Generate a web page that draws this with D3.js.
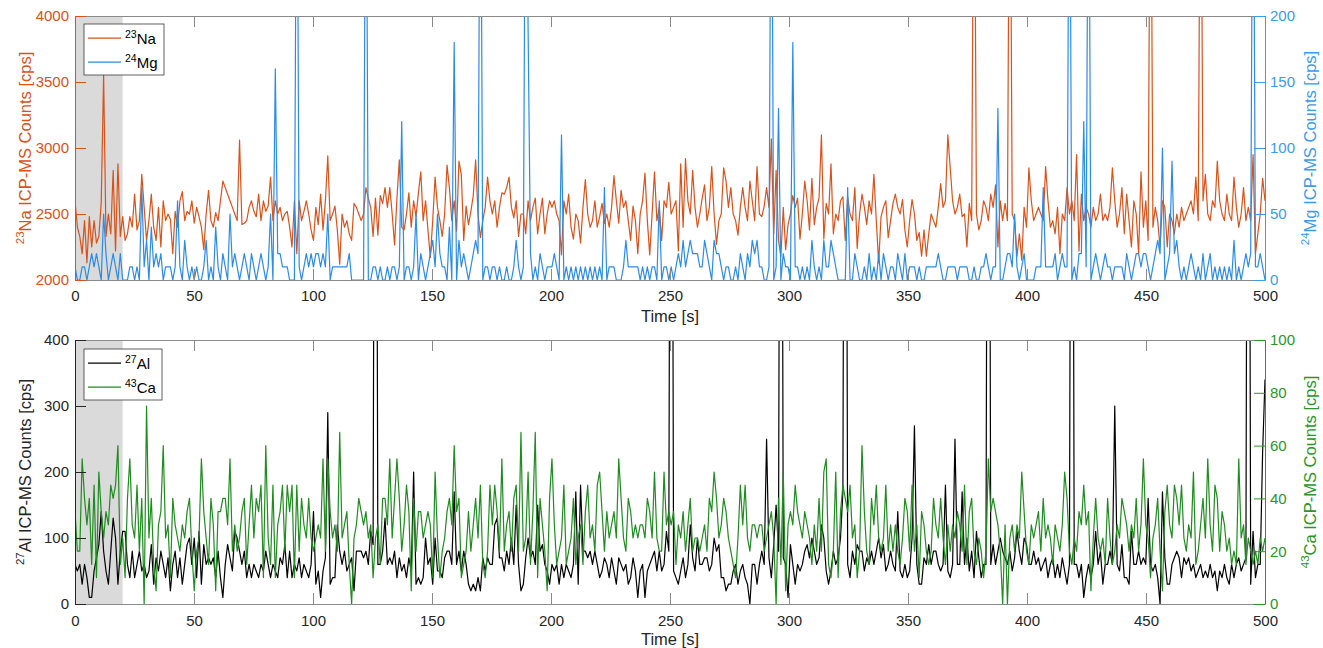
<!DOCTYPE html>
<html><head><meta charset="utf-8">
<script src="https://cdn.jsdelivr.net/npm/d3@7/dist/d3.min.js"></script>
<style>html,body{margin:0;padding:0;background:#fff;}svg{display:block;font-family:"Liberation Sans",Arial,Helvetica,sans-serif;}</style>
</head><body>
<script>
// ---------------- DATA (1 sample ≈ 1 s, 500 samples spanning 0–500 s) ----------------
const timeRange = [0, 500];
const blankEnd = 20; // shaded blank interval [s]
const xTicks = [0,50,100,150,200,250,300,350,400,450,500];
const naTicks = [2000,2500,3000,3500,4000];
const mgTicks = [0,50,100,150,200];
const alTicks = [0,100,200,300,400];
const caTicks = [0,20,40,60,80,100];

const na23 = [
2600,2400,2330,2200,2450,2130,2480,2250,2450,2280,
2330,2590,3550,2330,2500,2350,2830,2220,2880,2330,
2480,2300,2350,2480,2400,2650,2380,2450,2800,2550,
2300,2450,2650,2400,2300,2550,2250,2600,2450,2500,
2460,2200,2520,2400,2600,2670,2450,2520,2500,2600,
2430,2550,2480,2400,2230,2500,2680,2450,2400,2510,
2450,2600,2750,2700,2650,2600,2550,2500,2450,3060,
2420,2430,2450,2550,2600,2520,2480,2650,2450,2600,
2520,2560,2780,2450,2600,2500,2550,2450,2500,2520,
2400,2250,2600,2200,2600,2450,2520,2600,2500,2380,
2300,2550,2420,2650,2380,2600,2940,2450,2500,2560,
2380,2120,2500,2400,2450,2350,2300,2580,2550,2500,
2450,2500,2700,2620,2550,2330,2620,2340,2640,2580,
2700,2550,2700,2500,2265,2620,2910,2400,2380,2500,
2660,2400,2600,2480,2660,2820,2450,2600,2380,2170,
2450,2780,2550,2450,2330,2500,2870,2700,2450,2600,
2370,2900,2800,2300,2560,2420,2520,2640,2910,2500,
2320,2450,2550,2780,2600,2500,2600,2400,2550,2660,
2650,2700,2780,2550,2470,2600,2330,2500,2500,2350,
2600,2450,2550,2620,2350,2500,2620,2350,2500,2600,
2550,2600,2500,2450,2190,2600,2500,2650,2400,2310,
2500,2450,2280,2550,2760,2500,2400,2450,2600,2400,
2480,2580,2430,2500,2400,2550,2790,2600,2430,2680,
2550,2600,2450,2300,2560,2450,2200,2500,2600,2810,
2450,2190,2500,2820,2450,2550,2300,2600,2550,2740,
2500,2550,2600,2220,2880,2400,2920,2600,2500,2830,
2550,2400,2500,2620,2720,2450,2550,2860,2500,2270,
2450,2500,2850,2750,2550,2700,2500,2450,2340,2550,
2700,2550,2450,2750,2600,2450,2860,2500,2480,2560,
2700,2550,3070,2350,2830,2300,2180,2550,2230,2420,
2500,2640,2550,2620,2310,2500,2750,2600,2380,2770,
2420,2550,2620,3100,2310,2580,2500,2880,2350,2500,
2450,2600,2630,2300,2630,2500,2450,2700,2240,2500,
2650,2550,2420,2600,2500,2800,2450,2130,2480,2550,
2600,2320,2450,2580,2650,2550,2500,2610,2380,2250,
2450,2610,2500,2300,2360,2180,2380,2180,2350,2500,
2450,2400,2550,2730,2550,2600,3100,2850,2600,2500,
2550,2650,2480,2500,2250,2580,2450,6000,2500,2380,
2450,2600,2550,2450,2650,2550,2720,2250,2600,2450,
2580,2450,6000,2500,2450,2180,2350,2150,2550,2400,
2850,2600,2450,2500,2550,2500,2450,2860,2600,2400,
2450,2350,2550,2200,2500,2450,2700,2500,2600,2450,
2950,2220,2650,2450,2550,2500,2400,2550,2450,2500,
2650,2450,2500,2450,2550,2850,2600,2400,2500,2700,
2350,2650,2450,2250,2600,2500,2200,2820,2400,2600,
2300,6000,2400,2550,2450,2250,2600,2550,2250,2500,
2450,2350,2500,2400,2550,2450,2500,2550,2600,2500,
2780,2450,6000,2600,2800,2500,2450,2600,2550,2900,
2600,2500,2450,2650,2500,2450,2780,2550,2400,2500,
2700,2450,2550,2450,2950,2200,2350,2500,2770,2600
];

const mg24 = [
10,0,0,10,10,0,10,20,10,20,
10,0,50,20,0,10,20,10,0,20,
0,0,0,10,10,0,10,0,70,10,
30,0,40,10,20,10,20,0,10,10,
10,0,10,60,10,0,30,10,0,10,
0,10,0,0,10,30,0,10,0,40,
10,0,20,10,0,50,10,20,10,0,
10,20,10,0,20,10,0,10,20,10,
0,10,50,0,160,20,20,10,10,10,
0,0,0,400,10,0,10,20,10,20,
10,20,20,10,20,10,50,0,10,10,
10,10,10,10,10,20,0,0,0,0,
0,0,400,0,0,10,10,0,10,0,
0,10,0,10,10,0,10,120,0,10,
10,0,10,50,0,20,10,0,10,20,
30,10,50,20,10,10,0,40,0,180,
0,30,10,20,10,0,10,20,30,20,
400,0,10,10,0,10,10,0,10,0,
0,10,0,0,10,30,10,0,10,400,
190,20,0,10,0,20,10,0,10,10,
10,20,10,0,110,0,10,0,10,0,
10,0,10,0,10,0,10,0,10,0,
10,0,70,0,10,10,10,0,0,0,
10,30,10,10,10,10,10,0,10,0,
10,0,10,10,0,60,0,10,10,0,
10,0,10,20,10,30,10,20,30,20,
20,20,10,10,30,20,10,0,30,20,
20,10,0,10,10,0,0,10,0,20,
10,0,20,10,30,20,30,10,10,0,
0,10,400,0,10,130,0,20,10,10,
0,180,10,10,0,10,0,10,0,30,
10,0,10,0,30,10,10,30,20,10,
0,0,0,0,70,0,0,20,10,0,
0,10,0,20,0,10,0,20,0,20,
10,0,10,10,0,20,10,0,20,0,
10,10,10,0,10,0,0,10,10,10,
10,10,20,10,0,0,10,10,10,10,
0,10,10,10,10,0,0,10,0,0,
10,10,20,10,0,10,10,130,0,0,
10,20,20,10,50,10,0,10,20,0,
0,0,0,10,10,10,70,10,10,10,
10,20,0,10,20,10,10,400,0,10,
0,20,20,120,10,400,0,10,20,10,
0,10,20,10,10,0,10,10,10,10,
0,20,10,0,10,20,20,10,20,20,
10,0,10,20,30,20,100,0,10,20,
90,20,30,10,0,10,0,10,20,10,
0,10,0,20,0,10,20,0,10,0,
10,0,10,0,10,0,30,0,10,0,
10,20,10,20,400,10,10,20,10,0
];

const al27 = [
60,50,60,30,60,40,10,10,50,70,
90,140,80,50,30,80,130,100,30,80,
110,110,60,40,80,40,60,80,50,60,
40,50,90,30,70,50,80,60,40,70,
20,60,80,40,70,30,60,90,100,60,
100,40,110,30,90,60,70,60,70,40,
80,40,10,60,90,70,50,110,100,80,
60,80,40,60,40,60,50,40,60,50,
80,60,40,60,50,40,70,60,90,40,
80,40,60,50,70,40,60,50,40,60,
140,30,50,10,50,70,290,30,40,40,
120,80,60,80,50,60,70,20,80,80,
80,70,80,60,110,90,1500,60,60,80,
130,60,70,60,80,40,70,50,60,40,
70,50,200,30,40,30,40,100,60,70,
30,100,50,50,40,70,80,80,60,170,
60,80,50,80,60,30,20,30,20,40,
20,70,50,70,60,60,120,130,70,70,
50,80,60,100,60,150,60,20,30,70,
100,70,80,60,150,80,90,60,50,30,
60,50,60,30,60,40,60,50,40,60,
170,30,180,80,80,70,80,60,80,60,
40,50,70,60,40,70,50,30,70,60,
50,60,30,40,70,50,10,50,60,10,
50,60,70,80,50,80,50,60,110,80,
1500,50,40,30,50,70,40,60,120,70,
50,100,60,60,70,70,50,60,100,80,
90,40,40,20,30,30,50,60,30,50,
60,40,30,0,60,60,30,60,80,60,
250,70,40,90,150,80,1500,70,60,10,
90,60,30,60,50,60,80,90,70,100,
80,60,70,120,100,50,30,50,80,60,
70,100,170,1500,60,40,80,60,90,80,
80,50,70,60,80,60,80,100,70,90,
50,60,80,60,50,140,50,40,60,40,
50,100,270,60,30,30,70,60,90,60,
80,80,60,50,60,180,50,40,60,250,
60,60,170,60,100,50,80,40,110,70,
40,60,60,1500,60,90,60,80,100,80,
70,60,80,50,70,110,80,60,100,90,
60,60,80,60,70,50,60,70,40,60,
70,40,60,40,70,50,30,60,1500,60,
60,40,60,10,40,60,40,60,110,60,
80,30,60,60,80,60,300,60,50,90,
40,40,30,110,60,60,80,60,70,60,
160,60,50,60,40,0,170,70,30,30,
60,70,80,70,40,70,60,70,50,60,
40,50,60,40,50,40,60,40,50,20,
50,40,60,40,30,60,40,60,70,50,
60,70,1500,30,110,40,60,60,230,340
];

const ca43 = [
35,20,20,55,40,30,40,15,45,10,
50,35,25,35,30,45,40,45,60,15,
25,10,40,55,30,25,45,20,40,0,
75,25,40,15,5,30,35,60,25,30,
10,40,30,25,20,30,25,35,40,20,
5,20,25,55,35,25,15,40,30,5,
35,35,40,40,30,55,20,30,20,25,
35,40,15,30,45,25,40,35,45,10,
60,25,15,45,10,30,35,45,20,45,
35,45,10,45,20,40,30,25,40,25,
20,25,30,25,55,20,55,35,25,30,
20,65,25,30,35,15,0,25,30,40,
35,30,35,25,30,10,25,30,15,40,
40,30,55,25,40,55,40,20,30,45,
35,5,40,20,35,35,25,30,35,30,
10,50,25,10,20,25,35,40,30,60,
35,40,10,15,20,35,20,30,40,25,
45,15,10,20,45,30,45,35,20,55,
20,30,35,20,40,45,20,65,20,25,
50,15,35,65,10,40,30,20,5,40,
55,30,15,20,25,45,15,20,25,40,
15,25,30,15,35,45,25,30,20,45,
50,35,20,35,25,30,35,25,55,40,
25,20,40,35,25,30,25,30,30,25,
40,35,25,50,25,20,20,50,30,35,
30,35,15,30,25,35,20,30,40,20,
25,25,20,25,30,20,40,35,50,40,
25,30,40,35,25,20,15,10,25,45,
30,45,25,20,30,30,25,30,30,20,
25,30,35,25,0,40,15,50,5,30,
35,30,45,35,30,25,35,30,25,15,
30,20,40,20,50,55,15,10,20,50,
10,35,45,40,35,45,25,30,10,20,
60,35,20,15,40,30,45,25,20,25,
45,20,30,20,30,20,15,25,40,35,
20,45,20,30,10,35,30,20,15,20,
40,30,25,40,25,15,30,20,30,25,
35,30,20,45,15,35,40,20,15,25,
20,10,20,55,35,40,35,30,20,0,
30,0,25,30,20,30,25,50,35,20,
15,30,25,30,35,20,40,25,30,25,
15,30,25,20,30,50,40,20,15,25,
20,35,30,45,30,35,5,25,40,25,
20,25,15,40,25,15,20,30,25,40,
35,30,20,30,25,40,20,30,55,30,
25,10,25,30,40,20,5,35,45,30,
25,45,40,30,45,25,20,30,25,50,
15,20,30,40,25,55,30,20,45,40,
20,35,30,20,25,15,20,15,55,25,
30,15,25,20,15,20,15,25,20,25
];

// ---------------- STYLE ----------------
const C = {
  na: "#D95319", mg: "#2B8CE6", mgAxis: "#3C9BEB",
  al: "#000000", alAxis: "#262626", ca: "#1E8C1E", caAxis: "#2A962A",
  frame: "#8a8a8a", shade: "#dadada", text: "#262626"
};
const W = 1323, H = 648;
const L = 75, R = 1265;
const panels = [
  { top: 16, bottom: 280, xlab: 322 },
  { top: 340, bottom: 604, xlab: 645 }
];
const nSamples = na23.length;
const time = d3.range(nSamples).map(i => timeRange[0] + i * (timeRange[1] - timeRange[0]) / (nSamples - 1));

const svg = d3.select("body").append("svg").attr("width", W).attr("height", H);
const x = d3.scaleLinear().domain(timeRange).range([L, R]);

function superText(sel, sup, main, supSize, mainSize) {
  sel.append("tspan").attr("font-size", supSize).attr("dy", -0.42 * mainSize).text(sup);
  sel.append("tspan").attr("font-size", mainSize).attr("dy", 0.42 * mainSize).text(main);
}

function drawPanel(p, idx, cfg) {
  const yL = d3.scaleLinear().domain(cfg.leftDomain).range([p.bottom, p.top]);
  const yR = d3.scaleLinear().domain(cfg.rightDomain).range([p.bottom, p.top]);
  const g = svg.append("g");
  const clipId = "clip" + idx;
  svg.append("defs").append("clipPath").attr("id", clipId)
    .append("rect").attr("x", L).attr("y", p.top).attr("width", R - L).attr("height", p.bottom - p.top);

  // shaded blank period
  g.append("rect").attr("x", x(0)).attr("y", p.top).attr("width", x(blankEnd) - x(0))
    .attr("height", p.bottom - p.top).attr("fill", C.shade);

  const lineL = d3.line().x((d, i) => x(time[i])).y(d => yL(d));
  const lineR = d3.line().x((d, i) => x(time[i])).y(d => yR(d));
  const lg = g.append("g").attr("clip-path", `url(#${clipId})`);
  lg.append("path").datum(cfg.leftData).attr("d", lineL).attr("fill", "none")
    .attr("stroke", cfg.leftColor).attr("stroke-width", 1.2).attr("stroke-linejoin", "round");
  lg.append("path").datum(cfg.rightData).attr("d", lineR).attr("fill", "none")
    .attr("stroke", cfg.rightColor).attr("stroke-width", 1.2).attr("stroke-linejoin", "round");

  // x axis bottom
  const xb = svg.append("g").attr("transform", `translate(0,${p.bottom})`)
    .call(d3.axisBottom(x).tickValues(xTicks).tickSizeInner(-11).tickSizeOuter(0).tickPadding(cfg.xPad).tickFormat(d3.format("d")));
  xb.select(".domain").attr("stroke", C.frame);
  xb.selectAll(".tick line").attr("stroke", C.frame);
  xb.selectAll(".tick text").attr("fill", C.text).attr("font-size", 15);
  // x axis top (ticks only)
  const xt = svg.append("g").attr("transform", `translate(0,${p.top})`)
    .call(d3.axisTop(x).tickValues(xTicks).tickSizeInner(-11).tickSizeOuter(0).tickFormat(""));
  xt.select(".domain").attr("stroke", C.frame);
  xt.selectAll(".tick line").attr("stroke", C.frame);
  // left axis
  const al = svg.append("g").attr("transform", `translate(${L},0)`)
    .call(d3.axisLeft(yL).tickValues(cfg.leftTicks).tickSizeInner(-11).tickSizeOuter(0).tickPadding(6).tickFormat(d3.format("d")));
  al.select(".domain").attr("stroke", cfg.leftAxisColor);
  al.selectAll(".tick line").attr("stroke", cfg.leftAxisColor);
  al.selectAll(".tick text").attr("fill", cfg.leftAxisColor).attr("font-size", 15);
  // right axis
  const ar = svg.append("g").attr("transform", `translate(${R},0)`)
    .call(d3.axisRight(yR).tickValues(cfg.rightTicks).tickSizeInner(-11).tickSizeOuter(0).tickPadding(5).tickFormat(d3.format("d")));
  ar.select(".domain").attr("stroke", cfg.rightAxisColor);
  ar.selectAll(".tick line").attr("stroke", cfg.rightAxisColor);
  ar.selectAll(".tick text").attr("fill", cfg.rightAxisColor).attr("font-size", 15);
  svg.selectAll("g").attr("font-family", null);

  const mid = (p.top + p.bottom) / 2;
  // y labels
  const tl = svg.append("text").attr("transform", `translate(31,${mid}) rotate(-90)`)
    .attr("text-anchor", "middle").attr("fill", cfg.leftAxisColor);
  superText(tl, cfg.leftSup, cfg.leftLabel, 11.5, 16.5);
  const tr = svg.append("text").attr("transform", `translate(1316,${mid}) rotate(-90)`)
    .attr("text-anchor", "middle").attr("fill", cfg.rightAxisColor);
  superText(tr, cfg.rightSup, cfg.rightLabel, 11.5, 16.5);
  // x label
  svg.append("text").attr("x", (L + R) / 2).attr("y", p.xlab).attr("text-anchor", "middle")
    .attr("fill", C.text).attr("font-size", 16.5).text("Time [s]");

  // legend
  const lgX = 84, lgY = p.top + (idx === 0 ? 8 : 9), lgW = idx === 0 ? 80 : 78, lgH = 51;
  const leg = svg.append("g");
  leg.append("rect").attr("x", lgX).attr("y", lgY).attr("width", lgW).attr("height", lgH)
    .attr("fill", "#fff").attr("stroke", "#3a3a3a").attr("stroke-width", 0.8);
  cfg.legend.forEach((e, k) => {
    const yy = lgY + 14 + k * 24;
    leg.append("line").attr("x1", lgX + 4).attr("x2", lgX + 37).attr("y1", yy).attr("y2", yy)
      .attr("stroke", e.color).attr("stroke-width", 1.25);
    const t = leg.append("text").attr("x", lgX + 41).attr("y", yy + 6).attr("fill", "#000");
    superText(t, e.sup, e.name, 10.5, 15);
  });
}

drawPanel(panels[0], 0, {
  leftDomain: [2000, 4000], rightDomain: [0, 200],
  leftTicks: naTicks, rightTicks: mgTicks, xPad: 10,
  leftData: na23, rightData: mg24,
  leftColor: C.na, rightColor: C.mg,
  leftAxisColor: C.na, rightAxisColor: C.mgAxis,
  leftSup: "23", leftLabel: "Na ICP-MS Counts [cps]",
  rightSup: "24", rightLabel: "Mg ICP-MS Counts [cps]",
  legend: [{ sup: "23", name: "Na", color: C.na }, { sup: "24", name: "Mg", color: C.mg }]
});
drawPanel(panels[1], 1, {
  leftDomain: [0, 400], rightDomain: [0, 100],
  leftTicks: alTicks, rightTicks: caTicks, xPad: 11,
  leftData: al27, rightData: ca43,
  leftColor: C.al, rightColor: C.ca,
  leftAxisColor: C.alAxis, rightAxisColor: C.caAxis,
  leftSup: "27", leftLabel: "Al ICP-MS Counts [cps]",
  rightSup: "43", rightLabel: "Ca ICP-MS Counts [cps]",
  legend: [{ sup: "27", name: "Al", color: C.al }, { sup: "43", name: "Ca", color: C.ca }]
});
</script>
</body></html>
